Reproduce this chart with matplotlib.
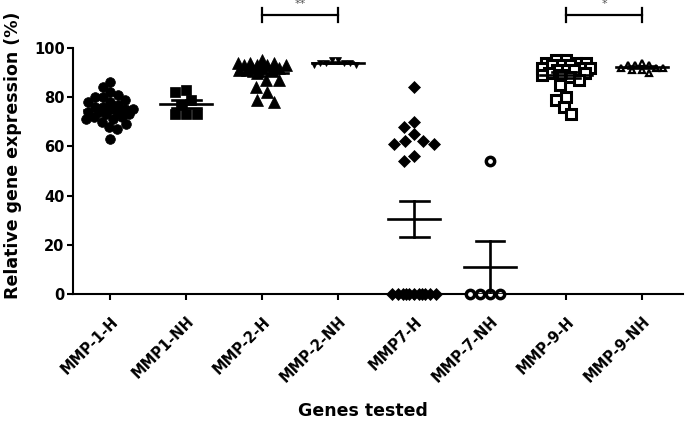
import numpy as np
import matplotlib
matplotlib.use("Agg")
import matplotlib.pyplot as plt
import matplotlib.transforms as mtransforms

plt.rcParams["font.family"] = ["DejaVu Sans"]

genes = ["MMP-1-H", "MMP1-NH", "MMP-2-H", "MMP-2-NH",
         "MMP7-H", "MMP-7-NH", "MMP-9-H", "MMP-9-NH"]

mmp1_h = [86, 84, 82, 81, 80, 80, 79, 78, 78, 77, 76, 76, 75, 75, 75, 74, 74,
          74, 73, 73, 72, 72, 71, 71, 70, 69, 68, 67, 63]
mmp1_nh = [83, 82, 79, 77, 73, 73, 73]
mmp2_h = [95, 94, 94, 93, 93, 93, 94, 92, 92, 92, 91, 91, 91, 90, 93,
          87, 87, 84, 82, 79, 78]
mmp2_nh = [95, 95, 94, 94, 94, 94, 93, 93]
mmp7_h = [84, 70, 68, 65, 62, 62, 61, 61, 56, 54,
          0, 0, 0, 0, 0, 0, 0, 0, 0, 0, 0]
mmp7_nh = [54, 0, 0, 0, 0]
mmp9_h = [95, 95, 94, 94, 94, 93, 93, 93, 92, 92, 92, 91, 91, 91, 90, 90,
          89, 89, 88, 87, 85, 80, 79, 76, 73]
mmp9_nh = [94, 93, 93, 92, 92, 92, 91, 91, 93, 90]

groups = [mmp1_h, mmp1_nh, mmp2_h, mmp2_nh, mmp7_h, mmp7_nh, mmp9_h, mmp9_nh]

# significance brackets: (left group, right group, label)
sig_pairs = [(2, 3, "**"), (6, 7, "*")]

# marker style per group: (marker, size pt, filled, edge width, spacing px)
styles = [("o", 7.0, True, 0.5, 8), ("s", 7.5, True, 0.5, 11),
          ("^", 8.5, True, 0.5, 12), ("v", 5.0, True, 0.5, 6),
          ("D", 6.5, True, 0.5, 11), ("o", 6.0, False, 2.5, 10),
          ("s", 7.0, False, 2.2, 10), ("^", 5.0, False, 1.6, 7)]

fig = plt.figure(figsize=(6.85, 4.23), dpi=100)
ax = fig.add_axes([0.1066, 0.305, 0.8905, 0.5816])
ax.set_xlim(-0.49, 7.54)
ax.set_ylim(0, 100)

bbox = ax.get_window_extent()
px_x = bbox.width / (7.54 + 0.49)
px_y = bbox.height / 100.0

max_half = 24  # px, max horizontal spread of a column


def swarm(vals, d):
    """simple beeswarm in pixel space, returns x offsets in data units"""
    ys = np.asarray(vals, float) * px_y
    order = np.argsort(-ys, kind="stable")
    cands = np.arange(-max_half, max_half + 0.1, 1.0)
    cands = cands[np.argsort(np.abs(cands), kind="stable")]
    placed_x, placed_y = [], []
    off = np.zeros(len(ys))
    for i in order:
        best, best_d = 0.0, -1
        for c in cands:
            if placed_x:
                dist = np.min(np.hypot(np.array(placed_x) - c,
                                       np.array(placed_y) - ys[i]))
            else:
                dist = np.inf
            if dist >= d:
                best = c
                break
            if dist > best_d + 0.5:
                best, best_d = c, dist
        off[i] = best
        placed_x.append(best)
        placed_y.append(ys[i])
    return off / px_x


for i, (vals, st) in enumerate(zip(groups, styles)):
    mk, ms, filled, mew, d = st
    xs = i + swarm(vals, d)
    ax.plot(xs, vals, linestyle="none", marker=mk, markersize=ms,
            markerfacecolor="black" if filled else "white",
            markeredgecolor="black", markeredgewidth=mew,
            clip_on=False, zorder=3)
    v = np.asarray(vals, float)
    m = v.mean()
    sem = v.std(ddof=1) / np.sqrt(len(v))
    ax.plot([i - 0.34, i + 0.34], [m, m], color="black", lw=1.9, zorder=4)
    ax.plot([i, i], [m - sem, m + sem], color="black", lw=1.9, zorder=4)
    for yy in (m - sem, m + sem):
        ax.plot([i - 0.19, i + 0.19], [yy, yy], color="black", lw=1.9,
                zorder=4)

for a, b, lab in sig_pairs:
    y0 = 113.4
    ax.plot([a, b], [y0, y0], color="black", lw=1.6, clip_on=False)
    for xx in (a, b):
        ax.plot([xx, xx], [y0 - 3, y0 + 3], color="black", lw=1.6,
                clip_on=False)
    ax.text((a + b) / 2, y0 + 4.5, lab, ha="center", va="center",
            fontsize=8, color="#555555", clip_on=False)

for s in ("top", "right"):
    ax.spines[s].set_visible(False)
for s in ("left", "bottom"):
    ax.spines[s].set_linewidth(1.5)

ax.set_yticks([0, 20, 40, 60, 80, 100])
ax.set_xticks(range(len(genes)))
ax.tick_params(axis="both", direction="out", length=4, width=1.5)
ax.tick_params(axis="y", labelsize=10.5, pad=2)
for t in ax.get_yticklabels():
    t.set_fontweight("bold")

ax.set_xticklabels(genes, rotation=45, ha="right", va="center",
                   rotation_mode="anchor", fontsize=10.5, fontweight="bold")
ax.tick_params(axis="x", pad=14)
shift = mtransforms.ScaledTranslation(4 / 72, 0, fig.dpi_scale_trans)
for t in ax.get_xticklabels():
    t.set_transform(t.get_transform() + shift)

ax.set_ylabel("Relative gene expression (%)", fontsize=12.5,
              fontweight="bold")
ax.yaxis.set_label_coords(-0.084, 0.565)
ax.set_xlabel("Genes tested", fontsize=12.5, fontweight="bold")
ax.xaxis.set_label_coords(0.475, -0.44)
ax.xaxis.label.set_va("top")

fig.savefig("out.png", dpi=100)
